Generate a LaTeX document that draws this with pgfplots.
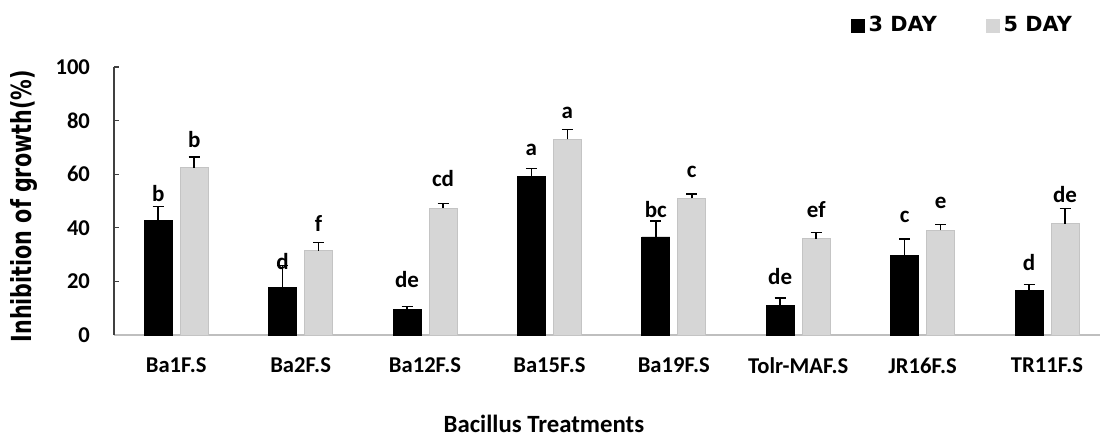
\documentclass[border=0pt]{standalone}
\usepackage{fontspec}
\setmainfont{Carlito}
\newfontfamily\widefont{DejaVu Sans}
\usepackage{graphicx}
\usepackage{pgfplots}
\usepackage{pgfplotstable}
\pgfplotsset{compat=1.18}
\definecolor{bargrey}{RGB}{214,214,214}
\definecolor{bargreyedge}{RGB}{196,196,196}
\definecolor{baseaxis}{RGB}{191,191,191}

\pgfplotstableread{
x d3 e3 d5 e5 l3 y3 l5 y5
0 42.9 5.0 62.4 4.1 b 49.7 b 69.9
1 17.8 8.2 31.5 3.1 d 24.3 f 38.5
2 9.6 1.1 47.3 1.7 de 17.4 cd 55.1
3 59.2 3.0 73.0 3.6 a 66.8 a 80.5
4 36.6 6.0 51.1 1.6 bc 43.5 c 58.5
5 10.9 2.9 36.0 2.3 de 18.7 ef 43.5
6 29.8 6.0 39.1 2.2 c 41.7 e 46.9
7 16.5 2.4 41.6 5.6 d 23.7 de 49.4
}\data

\begin{document}
\begin{tikzpicture}
\begin{axis}[
  scale only axis, width=493pt, height=134pt,
  xmin=-0.5, xmax=7.426, ymin=0, ymax=100,
  clip=false,
  axis x line=bottom, axis y line=left, axis line style={-},
  x axis line style={draw=baseaxis, line width=1pt},
  y axis line style={draw=black!75, line width=0.6pt},
  xtick={0,...,7},
  xticklabels={Ba1F.S,Ba2F.S,Ba12F.S,Ba15F.S,Ba19F.S,Tolr-MAF.S,JR16F.S,TR11F.S},
  major x tick style={draw=none},
  ytick={0,20,...,100}, tick align=inside, major tick length=2.5pt,
  major y tick style={draw=black!75, line width=0.6pt},
  /pgf/number format/assume math mode=true,
  ticklabel style={font=\bfseries\fontsize{11.3}{13}\selectfont},
  xticklabel style={yshift=-8pt},
  yticklabel style={xshift=-8.5pt},
  xlabel={Bacillus Treatments},
  xlabel style={font=\bfseries\fontsize{12.4}{14}\selectfont, at={(axis description cs:0.436,-0.3657)}, anchor=base},
  ylabel={\resizebox{136pt}{10.5pt}{\widefont\bfseries Inhibition of growth(\%)}},
  ylabel style={at={(axis description cs:-0.0913,0.48)}, anchor=center, rotate=0},
  legend style={at={(axis description cs:0.747,1.205)}, anchor=north west, draw=none, fill=none, inner sep=0pt,
    font=\widefont\bfseries\fontsize{10.4}{12}\selectfont, legend columns=2,
    /tikz/every even column/.append style={column sep=22.5pt}},
]
\addplot[ybar, bar width=14pt, bar shift=0pt, fill=black, draw=black,
  legend image code/.code={\fill[black] (0pt,-3.25pt) rectangle (6.5pt,3.25pt);},
  error bars/.cd, y dir=plus, y explicit,
  error bar style={line width=0.75pt, black},
  error mark options={rotate=90, mark size=2.75pt, line width=0.75pt, black}]
  table[x expr=\thisrow{x}-0.1447, y=d3, y error=e3] {\data};
\addlegendentry{3 DAY}
\addplot[ybar, bar width=14pt, bar shift=0pt, fill=bargrey, draw=bargreyedge, line width=0.4pt,
  legend image code/.code={\fill[bargrey] (0pt,-3.25pt) rectangle (6.5pt,3.25pt);},
  error bars/.cd, y dir=plus, y explicit,
  error bar style={line width=0.75pt, black},
  error mark options={rotate=90, mark size=2.75pt, line width=0.75pt, black}]
  table[x expr=\thisrow{x}+0.1447, y=d5, y error=e5] {\data};
\addlegendentry{5 DAY}
\addplot[draw=none, forget plot, nodes near coords, point meta=explicit symbolic,
  every node near coord/.append style={font=\bfseries\fontsize{11.5}{13}\selectfont, inner sep=0pt, anchor=south}]
  table[x expr=\thisrow{x}-0.1447, y=y3, meta=l3] {\data};
\addplot[draw=none, forget plot, nodes near coords, point meta=explicit symbolic,
  every node near coord/.append style={font=\bfseries\fontsize{11.5}{13}\selectfont, inner sep=0pt, anchor=south}]
  table[x expr=\thisrow{x}+0.1447, y=y5, meta=l5] {\data};
\end{axis}
\pgfresetboundingbox
\path[use as bounding box] ([shift={(-57pt,-51pt)}]current axis.south west) rectangle ([shift={(0pt,33.5pt)}]current axis.north east);
\end{tikzpicture}
\end{document}
